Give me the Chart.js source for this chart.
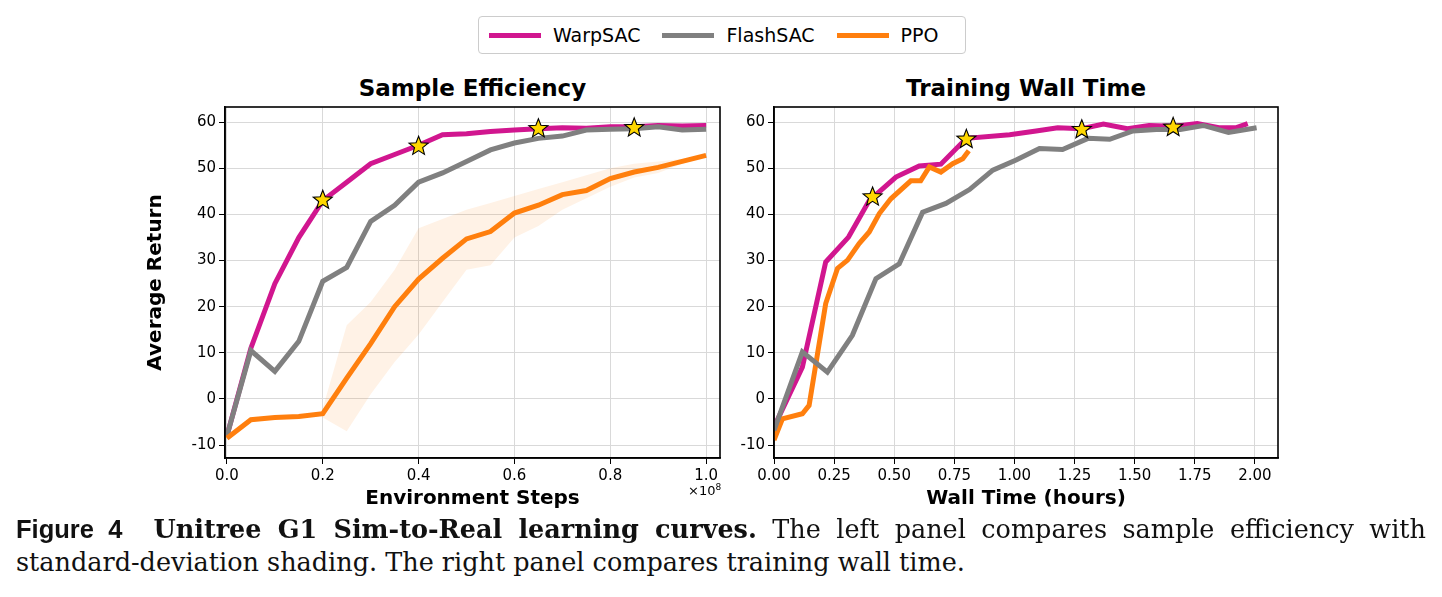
<!DOCTYPE html>
<html><head><meta charset="utf-8">
<script src="https://cdn.jsdelivr.net/npm/chart.js@4"></script>
<style>
body{margin:0;width:1442px;height:597px;background:#fff;position:relative;font-family:"DejaVu Sans";overflow:hidden}
.abs{position:absolute}
.ttl{font-weight:bold;font-size:23px;color:#000;text-align:center}
#legend{left:478px;top:16px;width:486px;height:36px;border:1px solid #ccc;border-radius:4px;display:flex;align-items:center;font-size:19px}
.li{display:flex;align-items:center;margin-left:10px;margin-right:12px}
.sw{width:52px;height:5px;margin-right:12px}
.cap{font-family:"DejaVu Serif","Liberation Serif";font-size:25.5px;left:16px;color:#111;white-space:nowrap}
</style></head><body>
<div id="legend" class="abs">
<div class="li"><div class="sw" style="background:#d1168f"></div>WarpSAC</div>
<div class="li"><div class="sw" style="background:#808080"></div>FlashSAC</div>
<div class="li"><div class="sw" style="background:#ff7f0e"></div>PPO</div>
</div>
<div class="abs ttl" style="left:225px;width:495px;top:75px">Sample Efficiency</div>
<div class="abs ttl" style="left:774px;width:504px;top:75px">Training Wall Time</div>
<div class="abs" style="left:140px;top:75px;width:600px;height:440px"><canvas id="c1"></canvas></div>
<div class="abs" style="left:740px;top:75px;width:560px;height:440px"><canvas id="c2"></canvas></div>
<div class="abs" style="left:688px;top:482px;font-size:13px">×10<sup style="font-size:9px">8</sup></div>
<div class="abs cap" style="top:514px;width:1410px;text-align:justify;text-align-last:justify"><span style="font-family:'Liberation Sans','DejaVu Sans';font-weight:bold">Figure 4</span>&nbsp; <b>Unitree G1 Sim-to-Real learning curves.</b> The left panel compares sample efficiency with</div>
<div class="abs cap" style="top:547px">standard-deviation shading. The right panel compares training wall time.</div>
<script>
const stepsX=[0,0.05,0.1,0.15,0.2,0.25,0.3,0.35,0.4,0.45,0.5,0.55,0.6,0.65,0.7,0.75,0.8,0.85,0.9,0.95,1.0];
const warpSteps=[-8,11,25,35,43,47,51,53,55,57.3,57.5,58,58.3,58.6,58.8,58.7,59,59,59.3,59.2,59.3];
const flashSteps=[-8,10.5,6,12.5,25.5,28.5,38.5,42,47,49,51.5,54,55.5,56.5,57,58.3,58.5,58.6,59,58.3,58.5];
const ppoSteps=[-8.5,-4.5,-4,-3.8,-3.2,4.5,12,20,26,30.5,34.7,36.3,40.3,42,44.3,45.2,47.8,49.2,50.2,51.5,52.8];
const ppoBandX=[0.2,0.25,0.3,0.35,0.4,0.45,0.5,0.55,0.6,0.65,0.7,0.75,0.8,0.85,0.9,0.95,1.0];
const ppoLow=[-4,-7,1,8,14,21,28,29,35,37.5,41,43.5,46,48,49,51,52.5];
const ppoHigh=[-2,16,21,28,37,39,41,42.5,44,45.5,47,48.5,50,51,51.5,52,53];
const starStepsX=[0.2,0.4,0.65,0.85];
const starStepsY=[43.3,55,58.8,59];

const warpTX=[0,0.118,0.215,0.31,0.396,0.507,0.604,0.694,0.8,0.98,1.09,1.18,1.28,1.37,1.47,1.56,1.66,1.76,1.85,1.92,1.97];
const warpTY=[-6.1,6.9,29.7,35.1,43,48.1,50.5,50.9,56.5,57.3,58.1,58.8,58.6,59.6,58.6,59.3,59.1,59.7,58.8,58.8,59.7];
const flashTX=[0,0.118,0.222,0.326,0.424,0.521,0.618,0.715,0.813,0.91,1.007,1.104,1.2,1.306,1.396,1.493,1.59,1.69,1.785,1.89,2.007];
const flashTY=[-6.8,10.2,5.8,13.8,26.1,29.3,40.5,42.4,45.4,49.6,51.8,54.3,54.1,56.5,56.3,58.1,58.4,58.4,59.3,57.8,58.8];
const ppoTX=[0,0.035,0.118,0.146,0.215,0.264,0.306,0.354,0.396,0.438,0.486,0.569,0.61,0.646,0.694,0.743,0.785,0.81];
const ppoTY=[-8.9,-4.3,-3.2,-1.4,20.7,28.3,30.1,33.7,36.2,40.2,43.4,47.3,47.3,50.3,49.2,51,52.1,53.8];
const starTX=[0.41,0.8,1.28,1.66];
const starTY=[44,56.5,58.6,59.1];
const yTicks=[-10,0,10,20,30,40,50,60];
const xTicks1=[0,0.2,0.4,0.6,0.8,1.0];
const xTicks2=[0,0.25,0.5,0.75,1.0,1.25,1.5,1.75,2.0];

const PINK='#d1168f',GRAY='#808080',ORANGE='#ff7f0e';
const zip=(xs,ys)=>xs.map((x,i)=>({x,y:ys[i]}));
const line=(data,color)=>({data,borderColor:color,borderWidth:5,pointRadius:0,showLine:true,fill:false,tension:0});
const stars=(xs,ys)=>({data:zip(xs,ys),pointRadius:0,showLine:false,isStar:true});
const starPlugin={id:'starsAndBox',afterDatasetsDraw(chart){
 const g=chart.ctx,a=chart.chartArea;
 g.save();g.strokeStyle='#000';g.lineWidth=1.6;g.strokeRect(a.left,a.top,a.right-a.left,a.bottom-a.top);
 chart.data.datasets.forEach((ds,i)=>{if(!ds.isStar)return;
  chart.getDatasetMeta(i).data.forEach(p=>{
   g.beginPath();for(let k=0;k<10;k++){const r=k%2?4.3:10,an=-Math.PI/2+k*Math.PI/5;g.lineTo(p.x+r*Math.cos(an),p.y+1+r*Math.sin(an));}
   g.closePath();g.fillStyle='#ffd700';g.fill();g.lineWidth=1.1;g.strokeStyle='#000';g.stroke();});});
 g.restore();}};
const font={family:'DejaVu Sans',size:15};
function opts(xmin,xmax,xt,xdec,yW,xTitle,yTitle,padR){
 return {animation:false,responsive:true,maintainAspectRatio:false,
 layout:{padding:{top:32,right:padR,left:0,bottom:0}},
 plugins:{legend:{display:false},tooltip:{enabled:false}},
 scales:{
  x:{type:'linear',min:xmin,max:xmax,afterBuildTicks:s=>{s.ticks=xt.map(v=>({value:v}))},
   ticks:{color:'#000',font,maxRotation:0,callback:v=>v.toFixed(xdec)},
   grid:{color:'#d9d9d9',tickColor:'#000',tickLength:6},border:{color:'#000',width:1.6},
   title:{display:true,text:xTitle,color:'#000',font:{family:'DejaVu Sans',size:20,weight:'bold'},padding:{top:0}},
   afterFit:s=>{s.height=57}},
  y:{min:-12.8,max:63.3,afterBuildTicks:s=>{s.ticks=yTicks.map(v=>({value:v}))},
   ticks:{color:'#000',font},grid:{color:'#d9d9d9',tickColor:'#000',tickLength:6},border:{color:'#000',width:1.6},
   title:{display:!!yTitle,text:yTitle,color:'#000',font:{family:'DejaVu Sans',size:20,weight:'bold'}},
   afterFit:s=>{s.width=yW}}
 }};
}
new Chart(document.getElementById('c1'),{type:'scatter',plugins:[starPlugin],data:{datasets:[
 {data:zip(ppoBandX,ppoLow),borderWidth:0,pointRadius:0,showLine:true,fill:false},
 {data:zip(ppoBandX,ppoHigh),borderWidth:0,pointRadius:0,showLine:true,fill:'-1',backgroundColor:'rgba(255,127,14,0.1)'},
 line(zip(stepsX,ppoSteps),ORANGE),
 line(zip(stepsX,flashSteps),GRAY),
 line(zip(stepsX,warpSteps),PINK),
 stars(starStepsX,starStepsY)
]},options:opts(-0.004,1.029,xTicks1,1,85,'Environment Steps','Average Return',20)});
new Chart(document.getElementById('c2'),{type:'scatter',plugins:[starPlugin],data:{datasets:[
 line(zip(flashTX,flashTY),GRAY),
 line(zip(ppoTX,ppoTY),ORANGE),
 line(zip(warpTX,warpTY),PINK),
 stars(starTX,starTY)
]},options:opts(0,2.096,xTicks2,2,34,'Wall Time (hours)','',22)});
</script></body></html>
